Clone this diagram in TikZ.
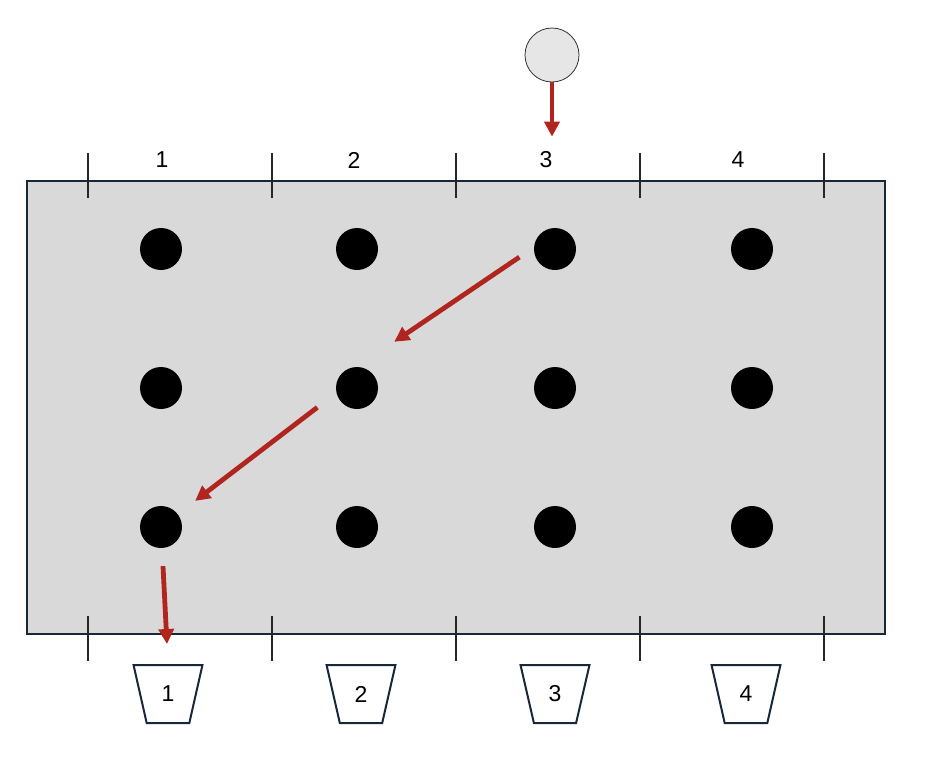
\documentclass[tikz,border=0pt]{standalone}
\usepackage{fontspec}
\setmainfont{Liberation Sans}
\usetikzlibrary{arrows.meta}
\usetikzlibrary{shapes.geometric}
\definecolor{boardgray}{HTML}{D9D9D9}
\definecolor{edgeblue}{HTML}{16283A}
\definecolor{flowred}{HTML}{B0261E}
\definecolor{ballgray}{HTML}{E6E6E6}
\tikzset{peg/.style  = {circle, fill=black, minimum size=42pt, inner sep=0pt},
         ball/.style = {circle, draw=black!80, line width=0.8pt, fill=ballgray,
                        minimum size=54pt, inner sep=0pt},
         lab/.style  = {inner sep=0pt, font=\fontsize{23}{28}\selectfont},
         bin/.style  = {trapezium, draw=edgeblue, line width=2pt, fill=white,
                        shape border rotate=180, trapezium angle=76,
                        trapezium stretches=true, minimum width=69pt,
                        minimum height=58pt, inner sep=0pt,
                        font=\fontsize{23}{28}\selectfont},
         tick/.style = {draw=black!85, line width=1.5pt},
         flow/.style = {draw=flowred, line width=4.8pt,
                        -{Triangle[length=15pt, width=15pt]}}}

\begin{document}
\begin{tikzpicture}[x=1pt, y=-1pt]
    \useasboundingbox (0, 0) rectangle (930, 756);
    \draw [edgeblue, line width=2pt, fill=boardgray] (27, 181) rectangle (885, 634);
    \foreach \x in {88, 272, 456, 640, 824} {
      \draw [tick] (\x, 153) -- (\x, 198);
      \draw [tick] (\x, 616) -- (\x, 661);
    }
    \foreach \i/\x in {1/162, 2/354, 3/546, 4/738}
      \node [lab] (col\i) at (\x, 160) {\i};
    \foreach \r/\y in {1/249, 2/388, 3/527}
      \foreach \c/\x in {1/161, 2/357, 3/555, 4/752}
        \node [peg] (p\r\c) at (\x, \y) {};
    \node [ball] (ball) at (552, 55) {};
    \foreach \i/\x in {1/168, 2/361, 3/555, 4/746}
      \node [bin] (bin\i) at (\x, 694) {\i};
    % drop path
    \draw [flow, shorten >=15pt] (ball.south) -- (ball.south |- col3.north);
    \draw [flow, shorten <=43pt, shorten >=45pt]
      ([yshift=16pt]p13.center) -- ([yshift=21pt]p22.center);
    \draw [flow, shorten <=50pt, shorten >=43pt]
      ([yshift=11pt]p22.center) -- (p31.center);
    \draw [flow, shorten <=18pt, shorten >=20pt] (p31) -- (bin1.north);
  \end{tikzpicture}
\end{document}
